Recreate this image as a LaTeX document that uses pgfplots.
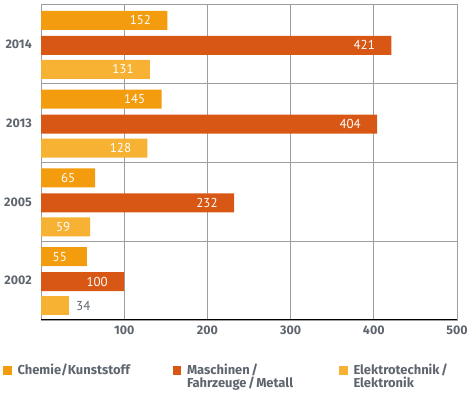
\documentclass[border=0pt]{standalone}
\usepackage{fontspec}
\setmainfont{PT Sans}
\newfontfamily\labfont{Fira Sans}
\usepackage{pgfplots}
\pgfplotsset{compat=1.18}
\definecolor{chem}{RGB}{243,156,13}
\definecolor{masch}{RGB}{216,87,20}
\definecolor{elek}{RGB}{248,178,51}
\definecolor{txt}{RGB}{95,101,110}
\definecolor{gridc}{RGB}{158,158,158}
\begin{document}
\begin{tikzpicture}
\useasboundingbox (0,0) rectangle (476bp,397bp);
\begin{axis}[
  at={(41bp,77bp)}, anchor=south west,
  scale only axis, width=416bp, height=315bp,
  xmin=0, xmax=500, ymin=-0.5, ymax=3.5,
  /pgf/number format/assume math mode=true,
  xbar, bar width=19bp,
  xtick={100,200,300,400,500},
  ytick={0,1,2,3}, yticklabels={2002,2005,2013,2014},
  minor ytick={0.5,1.5,2.5},
  xmajorgrids, yminorgrids,
  grid style={gridc, line width=1bp},
  minor grid style={gridc, line width=1bp},
  axis line style={gridc, line width=1bp},
  major tick length=0pt, minor tick length=0pt,
  tick label style={font=\labfont\fontsize{12.5}{14}\selectfont\bfseries, text=txt, inner sep=0pt},
  xticklabel style={anchor=north, yshift=-6bp},
  yticklabel style={anchor=east, xshift=-9bp},
  nodes near coords,
  nodes near coords style={font=\fontsize{13}{14}\selectfont, text=white, anchor=center, xshift=-27bp, inner sep=0pt},
  legend columns=3,
  legend image code/.code={\fill[#1] (0bp,0bp) rectangle (8.5bp,8.5bp);},
  legend style={at={(-0.0913,-0.1406)}, anchor=north west, draw=none, fill=none,
    inner sep=0pt, outer sep=0pt,
    font=\labfont\fontsize{13}{12.5}\selectfont\bfseries, text=txt,
    cells={anchor=base west}, nodes={inner sep=0pt},
    column sep=0pt,
    /tikz/every odd column/.append style={column sep=6bp}},
]
\addplot[fill=chem, draw=none, bar shift=24bp] coordinates {(55,0) (65,1) (145,2) (152,3)};
\addlegendentry{\parbox[t]{155bp}{Chemie/Kunststoff}}
\addplot[fill=masch, draw=none, bar shift=-1bp] coordinates {(100,0) (232,1) (404,2) (421,3)};
\addlegendentry{\parbox[t]{152bp}{Maschinen\kern1.5bp/\\Fahrzeuge\kern1.5bp/\kern1.5bp Metall}}
\addplot[fill=elek, draw=none, bar shift=-25bp] coordinates {(59,1) (128,2) (131,3)};
\addlegendentry{\parbox[t]{120bp}{Elektrotechnik\kern1.5bp/\\Elektronik}}
\addplot[fill=elek, draw=none, bar shift=-25bp, forget plot,
  nodes near coords style={text=txt, xshift=41bp}] coordinates {(34,0)};
\draw[black, line width=1.2bp] (rel axis cs:0,0) -- (rel axis cs:1,0);
\end{axis}
\end{tikzpicture}
\end{document}
